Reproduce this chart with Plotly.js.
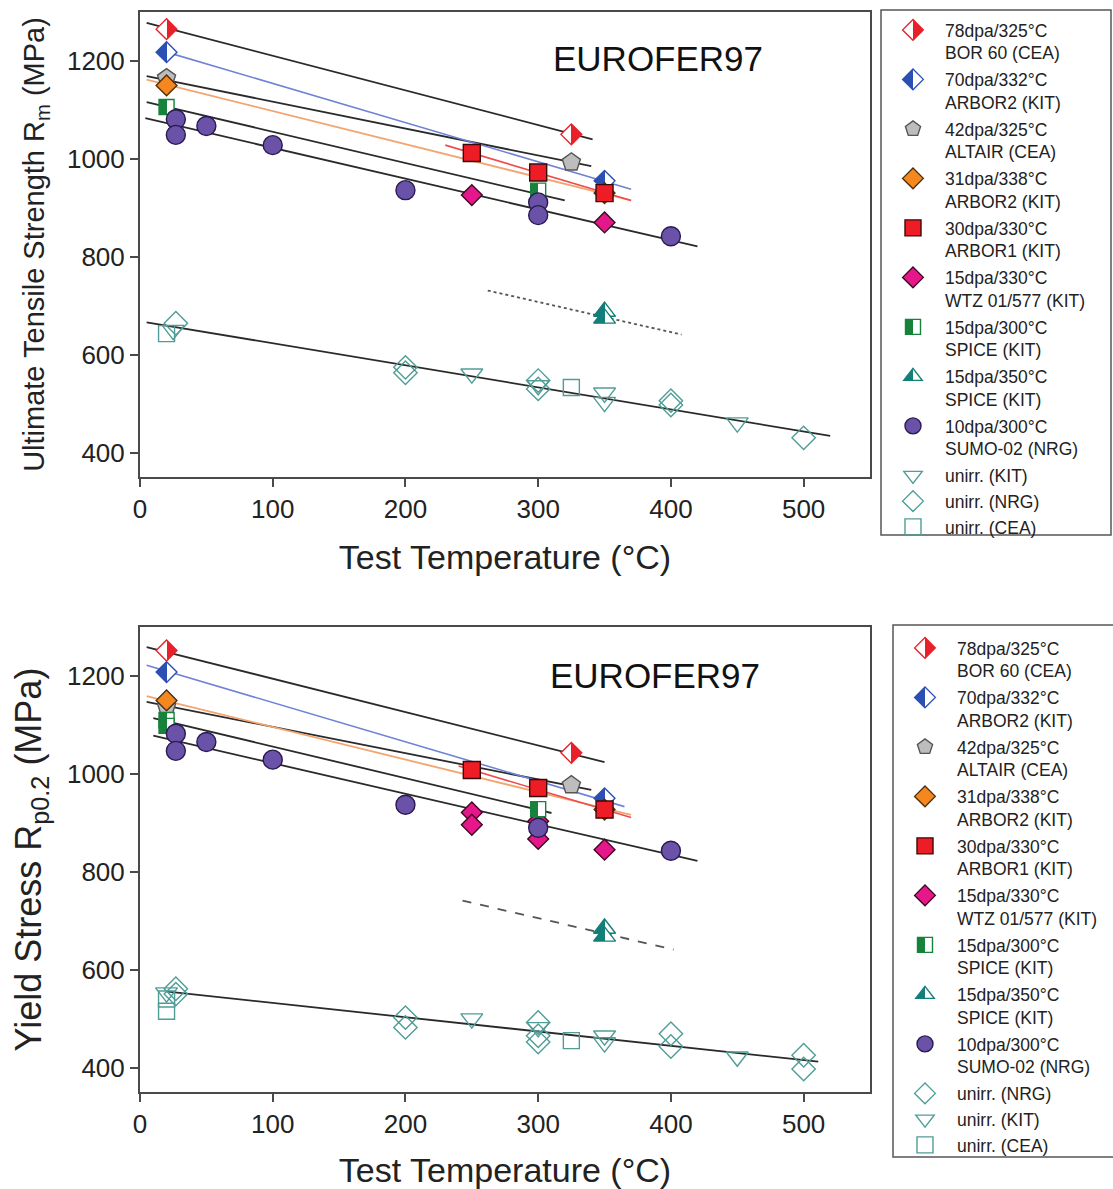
<!DOCTYPE html>
<html>
<head>
<meta charset="utf-8">
<script src="https://cdn.plot.ly/plotly-3.0.1.min.js"></script>
<style>html,body{margin:0;padding:0;background:#fff;}#chart{width:1113px;height:1189px;}</style>
</head>
<body>
<div id="chart"></div>
<script>
// ---------------- DATA ----------------
// Legend labels
const labels = {
  bor60: '78dpa/325°C<br>BOR 60 (CEA)',
  arbor70: '70dpa/332°C<br>ARBOR2 (KIT)',
  altair: '42dpa/325°C<br>ALTAIR (CEA)',
  arbor31: '31dpa/338°C<br>ARBOR2 (KIT)',
  arbor1: '30dpa/330°C<br>ARBOR1 (KIT)',
  wtz: '15dpa/330°C<br>WTZ 01/577 (KIT)',
  spice300: '15dpa/300°C<br>SPICE (KIT)',
  spice350: '15dpa/350°C<br>SPICE (KIT)',
  sumo: '10dpa/300°C<br>SUMO-02 (NRG)',
  kit: 'unirr. (KIT)',
  nrg: 'unirr. (NRG)',
  cea: 'unirr. (CEA)'
};
const xTicks = [0, 100, 200, 300, 400, 500];
const yTicks = [400, 600, 800, 1000, 1200];

// Upper panel: Ultimate tensile strength Rm (MPa) vs test temperature (°C)
const uts_bor60_T = [20, 325],              uts_bor60_R = [1265, 1050];
const uts_arbor70_T = [20, 350],            uts_arbor70_R = [1218, 955];
const uts_altair_T = [20, 325],             uts_altair_R = [1165, 993];
const uts_arbor31_T = [20, 350],            uts_arbor31_R = [1150, 930];
const uts_arbor1_T = [250, 300, 350],       uts_arbor1_R = [1012, 972, 930];
const uts_wtz_T = [250, 350],               uts_wtz_R = [926, 870];
const uts_spice300_T = [20, 300],           uts_spice300_R = [1106, 935];
const uts_spice350_T = [350, 350],          uts_spice350_R = [688, 674];
const uts_sumo_T = [27, 27, 50, 100, 200, 300, 300, 400];
const uts_sumo_R = [1081, 1049, 1067, 1028, 936, 911, 885, 842];
const uts_kit_T = [25, 250, 300, 350, 350, 450];
const uts_kit_R = [650, 561, 537, 522, 503, 461];
const uts_nrg_T = [27, 200, 200, 300, 300, 400, 400, 500];
const uts_nrg_R = [664, 574, 563, 547, 530, 506, 497, 430];
const uts_cea_T = [20, 325];
const uts_cea_R = [643, 533];

// Upper panel fit lines (end points)
const uts_fit_bor60_T = [5, 341],     uts_fit_bor60_R = [1278, 1040];
const uts_fit_arbor70_T = [20, 370],  uts_fit_arbor70_R = [1218, 938];
const uts_fit_altair_T = [5, 340],    uts_fit_altair_R = [1169, 985];
const uts_fit_arbor31_T = [5, 370],   uts_fit_arbor31_R = [1162, 915];
const uts_fit_arbor1_T = [230, 370],  uts_fit_arbor1_R = [1028, 915];
const uts_fit_spice300_T = [5, 320],  uts_fit_spice300_R = [1116, 915];
const uts_fit_spice350_T = [262, 408],uts_fit_spice350_R = [731, 641];
const uts_fit_sumo_T = [4, 420],      uts_fit_sumo_R = [1083, 821];
const uts_fit_unirr_T = [5, 520],     uts_fit_unirr_R = [666, 434];

// Lower panel: Yield stress Rp0.2 (MPa) vs test temperature (°C)
const ys_bor60_T = [20, 325],               ys_bor60_R = [1252, 1043];
const ys_arbor70_T = [20, 350],             ys_arbor70_R = [1208, 950];
const ys_altair_T = [20, 325],              ys_altair_R = [1137, 977];
const ys_arbor31_T = [20, 350],             ys_arbor31_R = [1150, 927];
const ys_arbor1_T = [250, 300, 350],        ys_arbor1_R = [1008, 971, 927];
const ys_wtz_T = [250, 250, 300, 300, 350], ys_wtz_R = [921, 896, 903, 867, 845];
const ys_spice300_T = [20, 20, 300],        ys_spice300_R = [1110, 1098, 928];
const ys_spice350_T = [350, 350],           ys_spice350_R = [684, 668];
const ys_sumo_T = [27, 27, 50, 100, 200, 300, 400];
const ys_sumo_R = [1082, 1047, 1065, 1029, 937, 890, 843];
const ys_nrg_T = [27, 27, 200, 200, 300, 300, 300, 400, 400, 500, 500];
const ys_nrg_R = [561, 550, 502, 482, 492, 465, 452, 469, 443, 425, 397];
const ys_kit_T = [20, 250, 300, 350, 350, 450];
const ys_kit_R = [553, 500, 482, 465, 451, 422];
const ys_cea_T = [20, 20, 325];
const ys_cea_R = [540, 515, 455];

// Lower panel fit lines (end points)
const ys_fit_bor60_T = [5, 350],      ys_fit_bor60_R = [1259, 1024];
const ys_fit_arbor70_T = [5, 365],    ys_fit_arbor70_R = [1222, 933];
const ys_fit_altair_T = [5, 340],     ys_fit_altair_R = [1147, 967];
const ys_fit_arbor31_T = [5, 370],    ys_fit_arbor31_R = [1159, 916];
const ys_fit_arbor1_T = [240, 370],   ys_fit_arbor1_R = [1016, 911];
const ys_fit_spice300_T = [10, 310],  ys_fit_spice300_R = [1114, 920];
const ys_fit_spice350_T = [243, 402], ys_fit_spice350_R = [741, 641];
const ys_fit_sumo_T = [10, 420],      ys_fit_sumo_R = [1078, 822];
const ys_fit_unirr_T = [21, 511],     ys_fit_unirr_R = [555, 412];

// ---------------- STYLES ----------------
const FONT = 'Liberation Sans, Arial, Helvetica, sans-serif';
const teal = '#4f9d96';
const styles = {
  bor60:   {symbol: 'diamond', size: 16, color: '#ffffff', grad: '#e8202a', line: '#e8202a'},
  arbor70: {symbol: 'diamond', size: 16, color: '#2b4fb3', grad: '#ffffff', line: '#2b4fb3'},
  altair:  {symbol: 'pentagon', size: 19, color: '#bdbdbd', line: '#555555'},
  arbor31: {symbol: 'diamond', size: 16, color: '#f5871f', line: '#4a3010'},
  arbor1:  {symbol: 'square', size: 17, color: '#ee1c25', line: '#3a0a0a'},
  wtz:     {symbol: 'diamond', size: 16, color: '#e5178a', line: '#3a0a20'},
  spice300:{symbol: 'square', size: 15, color: '#16823a', grad: '#ffffff', line: '#16823a'},
  spice350:{symbol: 'triangle-up', size: 19, color: '#127f78', grad: '#ffffff', line: '#127f78'},
  sumo:    {symbol: 'circle', size: 19, color: '#6a52a8', line: '#2a1a50'},
  kit:     {symbol: 'triangle-down-open', size: 19, color: teal, line: teal},
  nrg:     {symbol: 'diamond-open', size: 18, color: teal, line: teal},
  cea:     {symbol: 'square-open', size: 16, color: teal, line: teal}
};
const fitStyles = {
  bor60: {color: '#2a2a2a', width: 1.8, dash: 'solid'},
  arbor70: {color: '#6f82d6', width: 1.6, dash: 'solid'},
  altair: {color: '#2a2a2a', width: 1.8, dash: 'solid'},
  arbor31: {color: '#f4a46e', width: 1.8, dash: 'solid'},
  arbor1: {color: '#ec4c4c', width: 1.6, dash: 'solid'},
  spice300: {color: '#2a2a2a', width: 1.8, dash: 'solid'},
  sumo: {color: '#2a2a2a', width: 1.8, dash: 'solid'},
  unirr: {color: '#2a2a2a', width: 1.8, dash: 'solid'}
};

// ---------------- TRACES ----------------
function markerTrace(key, T, R, xa, ya, leg) {
  const s = styles[key];
  const m = {symbol: s.symbol, size: s.size, color: s.color, line: {color: s.line, width: 1.4}};
  if (s.grad) m.gradient = {type: 'horizontal', color: s.grad};
  const t = {type: 'scatter', mode: 'markers', x: T, y: R, name: labels[key], marker: m,
          xaxis: xa, yaxis: ya, legend: leg, showlegend: true, cliponaxis: false};
  if (key === 'kit' || key === 'nrg' || key === 'cea') t.legendgroup = 'unirr-' + leg;
  return t;
}
function fitTrace(key, T, R, xa, ya, leg, dashOverride) {
  const f = fitStyles[key] || {color: '#555555', width: 1.8, dash: 'dot'};
  return {type: 'scatter', mode: 'lines', x: T, y: R, xaxis: xa, yaxis: ya, legend: leg,
          showlegend: false, hoverinfo: 'skip',
          line: {color: f.color, width: f.width, dash: dashOverride || f.dash}};
}

const traces = [
  // upper fits
  fitTrace('bor60', uts_fit_bor60_T, uts_fit_bor60_R, 'x', 'y', 'legend'),
  fitTrace('altair', uts_fit_altair_T, uts_fit_altair_R, 'x', 'y', 'legend'),
  fitTrace('spice300', uts_fit_spice300_T, uts_fit_spice300_R, 'x', 'y', 'legend'),
  fitTrace('sumo', uts_fit_sumo_T, uts_fit_sumo_R, 'x', 'y', 'legend'),
  fitTrace('unirr', uts_fit_unirr_T, uts_fit_unirr_R, 'x', 'y', 'legend'),
  fitTrace('spice350', uts_fit_spice350_T, uts_fit_spice350_R, 'x', 'y', 'legend', 'dot'),
  fitTrace('arbor31', uts_fit_arbor31_T, uts_fit_arbor31_R, 'x', 'y', 'legend'),
  fitTrace('arbor70', uts_fit_arbor70_T, uts_fit_arbor70_R, 'x', 'y', 'legend'),
  fitTrace('arbor1', uts_fit_arbor1_T, uts_fit_arbor1_R, 'x', 'y', 'legend'),
  // upper markers
  markerTrace('bor60', uts_bor60_T, uts_bor60_R, 'x', 'y', 'legend'),
  markerTrace('arbor70', uts_arbor70_T, uts_arbor70_R, 'x', 'y', 'legend'),
  markerTrace('altair', uts_altair_T, uts_altair_R, 'x', 'y', 'legend'),
  markerTrace('arbor31', uts_arbor31_T, uts_arbor31_R, 'x', 'y', 'legend'),
  markerTrace('arbor1', uts_arbor1_T, uts_arbor1_R, 'x', 'y', 'legend'),
  markerTrace('wtz', uts_wtz_T, uts_wtz_R, 'x', 'y', 'legend'),
  markerTrace('spice300', uts_spice300_T, uts_spice300_R, 'x', 'y', 'legend'),
  markerTrace('spice350', uts_spice350_T, uts_spice350_R, 'x', 'y', 'legend'),
  markerTrace('sumo', uts_sumo_T, uts_sumo_R, 'x', 'y', 'legend'),
  markerTrace('kit', uts_kit_T, uts_kit_R, 'x', 'y', 'legend'),
  markerTrace('nrg', uts_nrg_T, uts_nrg_R, 'x', 'y', 'legend'),
  markerTrace('cea', uts_cea_T, uts_cea_R, 'x', 'y', 'legend'),
  // lower fits
  fitTrace('bor60', ys_fit_bor60_T, ys_fit_bor60_R, 'x2', 'y2', 'legend2'),
  fitTrace('altair', ys_fit_altair_T, ys_fit_altair_R, 'x2', 'y2', 'legend2'),
  fitTrace('spice300', ys_fit_spice300_T, ys_fit_spice300_R, 'x2', 'y2', 'legend2'),
  fitTrace('sumo', ys_fit_sumo_T, ys_fit_sumo_R, 'x2', 'y2', 'legend2'),
  fitTrace('unirr', ys_fit_unirr_T, ys_fit_unirr_R, 'x2', 'y2', 'legend2'),
  fitTrace('spice350', ys_fit_spice350_T, ys_fit_spice350_R, 'x2', 'y2', 'legend2', 'dash'),
  fitTrace('arbor31', ys_fit_arbor31_T, ys_fit_arbor31_R, 'x2', 'y2', 'legend2'),
  fitTrace('arbor70', ys_fit_arbor70_T, ys_fit_arbor70_R, 'x2', 'y2', 'legend2'),
  fitTrace('arbor1', ys_fit_arbor1_T, ys_fit_arbor1_R, 'x2', 'y2', 'legend2'),
  // lower markers
  markerTrace('bor60', ys_bor60_T, ys_bor60_R, 'x2', 'y2', 'legend2'),
  markerTrace('arbor70', ys_arbor70_T, ys_arbor70_R, 'x2', 'y2', 'legend2'),
  markerTrace('altair', ys_altair_T, ys_altair_R, 'x2', 'y2', 'legend2'),
  markerTrace('arbor31', ys_arbor31_T, ys_arbor31_R, 'x2', 'y2', 'legend2'),
  markerTrace('arbor1', ys_arbor1_T, ys_arbor1_R, 'x2', 'y2', 'legend2'),
  markerTrace('wtz', ys_wtz_T, ys_wtz_R, 'x2', 'y2', 'legend2'),
  markerTrace('spice300', ys_spice300_T, ys_spice300_R, 'x2', 'y2', 'legend2'),
  markerTrace('spice350', ys_spice350_T, ys_spice350_R, 'x2', 'y2', 'legend2'),
  markerTrace('sumo', ys_sumo_T, ys_sumo_R, 'x2', 'y2', 'legend2'),
  markerTrace('nrg', ys_nrg_T, ys_nrg_R, 'x2', 'y2', 'legend2'),
  markerTrace('kit', ys_kit_T, ys_kit_R, 'x2', 'y2', 'legend2'),
  markerTrace('cea', ys_cea_T, ys_cea_R, 'x2', 'y2', 'legend2')
];

// ---------------- LAYOUT ----------------
const W = 1113, H = 1189;
function axisBase() {
  return {showgrid: false, zeroline: false, showline: true, mirror: true,
          linecolor: '#4a4a4a', linewidth: 2, ticks: 'outside', ticklen: 8,
          tickwidth: 2, tickcolor: '#4a4a4a', tickfont: {size: 26, color: '#222'},
          fixedrange: true};
}
function legendBase(x, yTop) {
  return {x: x, y: yTop, xanchor: 'left', yanchor: 'top', xref: 'paper', yref: 'paper',
    font: {size: 17.5, color: '#222'}, itemwidth: 54, valign: 'top', borderwidth: 0,
    bgcolor: 'rgba(0,0,0,0)', traceorder: 'grouped', tracegroupgap: 1};
}
const layout = {
  width: W, height: H,
  margin: {l: 0, r: 0, t: 0, b: 0, autoexpand: false},
  paper_bgcolor: '#ffffff', plot_bgcolor: '#ffffff',
  font: {family: FONT, color: '#222'},
  showlegend: true,
  xaxis: Object.assign(axisBase(), {domain: [140 / W, 870 / W], range: [0, 550], anchor: 'y',
    tickvals: xTicks, title: {text: 'Test Temperature (°C)', font: {size: 34}, standoff: 22}}),
  yaxis: Object.assign(axisBase(), {domain: [1 - 477 / H, 1 - 12 / H], range: [350, 1300], anchor: 'x',
    tickvals: yTicks, title: {text: 'Ultimate Tensile Strength R<sub>m</sub> (MPa)', font: {size: 29}, standoff: 14}}),
  xaxis2: Object.assign(axisBase(), {domain: [140 / W, 870 / W], range: [0, 550], anchor: 'y2',
    tickvals: xTicks, title: {text: 'Test Temperature (°C)', font: {size: 34}, standoff: 26}}),
  yaxis2: Object.assign(axisBase(), {domain: [1 - 1092 / H, 1 - 627 / H], range: [350, 1300], anchor: 'x2',
    tickvals: yTicks, title: {text: 'Yield Stress R<sub>p0.2</sub> (MPa)', font: {size: 36}, standoff: 14}}),
  legend: legendBase(881 / W, 1 - 12 / H),
  legend2: legendBase(893 / W, 1 - 630 / H),
  annotations: [
    {text: 'EUROFER97', xref: 'x', yref: 'y', x: 390, y: 1205, showarrow: false,
     font: {size: 35, color: '#111'}},
    {text: 'EUROFER97', xref: 'x2', yref: 'y2', x: 388, y: 1200, showarrow: false,
     font: {size: 35, color: '#111'}}
  ],
  shapes: [
    {type: 'rect', xref: 'paper', yref: 'paper', x0: 881 / W, x1: 1111 / W, y0: 1 - 535 / H, y1: 1 - 10 / H,
     line: {color: '#555', width: 1.5}},
    {type: 'rect', xref: 'paper', yref: 'paper', x0: 893 / W, x1: 1.02, y0: 1 - 1157 / H, y1: 1 - 625 / H,
     line: {color: '#555', width: 1.5}}
  ]
};

Plotly.newPlot('chart', traces, layout, {staticPlot: true, displayModeBar: false}).then(function (gd) {
  // make the marker gradients split sharply in half (half-filled symbols)
  gd.querySelectorAll('linearGradient').forEach(function (g) {
    g.querySelectorAll('stop').forEach(function (s) { s.setAttribute('offset', '50%'); });
  });
});
</script>
</body>
</html>
